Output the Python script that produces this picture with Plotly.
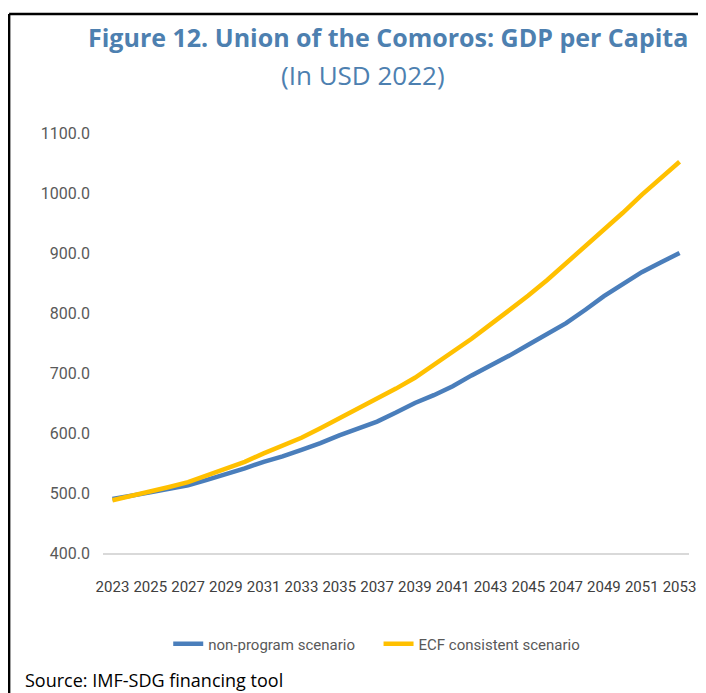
import plotly.graph_objects as go

years = list(range(2023, 2054))

non_program = [
    490, 495, 501, 507, 513, 522, 531, 541, 552, 561,
    572, 583, 596, 607, 619, 634, 650, 663, 678, 696,
    712, 729, 747, 765, 783, 805, 828, 848, 868, 884,
    900,
]
ecf_consistent = [
    488, 495, 503, 510, 518, 529, 540, 552, 566, 578,
    592, 608, 624, 640, 657, 674, 692, 713, 735, 757,
    781, 804, 829, 855, 883, 910, 938, 967, 997, 1025,
    1052,
]

x_ticks = list(range(2023, 2054, 2))
y_ticks = [400, 500, 600, 700, 800, 900, 1000, 1100]

BLUE = "#4a7ebb"
YELLOW = "#ffc000"
TITLE_BLUE = "#4d80b0"
TICK_FONT = "Roboto, sans-serif"
TEXT_FONT = "Open Sans, Noto Sans, sans-serif"

# the page body adds an 8px offset, so the figure is laid out in window pixels minus 8
OFF = 8
W, H = 706 - OFF, 693 - OFF
L, R, T, B = 103 - OFF, 10, 133 - OFF, 140
PW, PH = W - L - R, H - T - B


def px(x):
    return (x - OFF - L) / PW


def py(y):
    return (H - B - (y - OFF)) / PH


fig = go.Figure()
# trailing non-breaking spaces widen the gap between the two legend entries
fig.add_trace(go.Scatter(x=years, y=non_program, name="non-program scenario\u00a0\u00a0\u00a0\u00a0\u00a0",
                         mode="lines", line=dict(color=BLUE, width=4.5)))
fig.add_trace(go.Scatter(x=years, y=ecf_consistent, name="ECF consistent scenario",
                         mode="lines", line=dict(color=YELLOW, width=4.5)))

fig.update_layout(
    width=W, height=H,
    margin=dict(l=L, r=R, t=T, b=B),
    paper_bgcolor="white", plot_bgcolor="white",
    font=dict(family=TICK_FONT, size=16, color="#595959"),
    showlegend=True,
    legend=dict(orientation="h", x=px(380), xanchor="center", y=py(644), yanchor="middle",
                font=dict(size=15, color="#595959"), itemwidth=30),
)
fig.update_xaxes(
    range=[2022.5, 2053.5], tickvals=x_ticks, ticktext=[str(v) for v in x_ticks],
    tickangle=0, showgrid=False, zeroline=False, showline=True, linecolor="#d9d9d9",
    linewidth=1.5, ticks="", ticklabelstandoff=19, tickfont=dict(size=15, color="#404040"),
)
fig.update_yaxes(
    range=[400, 1100], tickvals=y_ticks, tickformat=".1f",
    showgrid=False, zeroline=False, showline=False, ticks="",
    ticklabelstandoff=12, tickfont=dict(size=16, color="#595959"),
)

fig.add_annotation(text="<b>Figure 12. Union of the Comoros: GDP per Capita</b>",
                   xref="paper", yref="paper", x=px(391), y=py(37), showarrow=False,
                   xanchor="center", yanchor="middle",
                   font=dict(family=TEXT_FONT, size=25, color=TITLE_BLUE))
fig.add_annotation(text="(In USD 2022)",
                   xref="paper", yref="paper", x=px(366), y=py(75), showarrow=False,
                   xanchor="center", yanchor="middle",
                   font=dict(family=TEXT_FONT, size=26, color=TITLE_BLUE))
fig.add_annotation(text="Source: IMF-SDG financing tool",
                   xref="paper", yref="paper", x=px(22), y=py(680), showarrow=False,
                   xanchor="left", yanchor="middle",
                   font=dict(family=TEXT_FONT, size=18, color="#000000"))

# frame: top and left edges of the original box
fig.add_shape(type="line", xref="paper", yref="paper", x0=px(8), x1=px(706), y0=py(14), y1=py(14),
              line=dict(color="black", width=2.5))
fig.add_shape(type="line", xref="paper", yref="paper", x0=px(8), x1=px(8), y0=py(14), y1=py(693),
              line=dict(color="black", width=2.5))

fig.write_html("out.html")
